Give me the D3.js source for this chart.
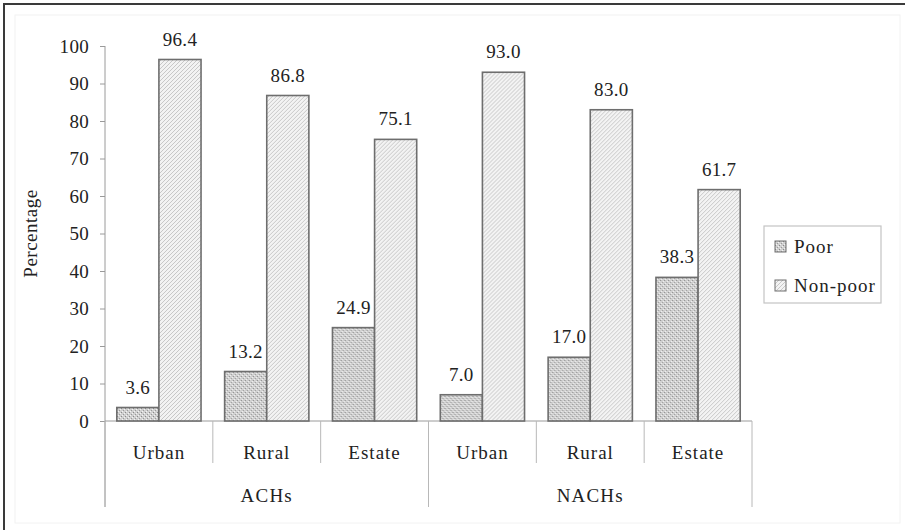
<!DOCTYPE html>
<html>
<head>
<meta charset="utf-8">
<script src="https://cdn.jsdelivr.net/npm/d3@7"></script>
<style>
  html, body { margin: 0; padding: 0; background: #fff; }
</style>
</head>
<body>
<svg id="chart" width="905" height="530"></svg>
<script>
// Share of poor vs non-poor households by sector, ACHs and NACHs
const groups = ["ACHs", "NACHs"];
const sectors = ["Urban", "Rural", "Estate"];
const seriesNames = ["Poor", "Non-poor"];
const poorValues = [3.6, 13.2, 24.9, 7.0, 17.0, 38.3];
const nonPoorValues = [96.4, 86.8, 75.1, 93.0, 83.0, 61.7];
const yTicks = [0, 10, 20, 30, 40, 50, 60, 70, 80, 90, 100];

const SERIF = "Liberation Serif";
const TEXT = "#222";

const rows = [];
groups.forEach((g, gi) => sectors.forEach((s, si) => {
  const i = gi * sectors.length + si;
  rows.push({ key: g + "-" + s, group: g, sector: s, values: [poorValues[i], nonPoorValues[i]] });
}));

const svg = d3.select("#chart");

function label(sel, size, spacing) {
  return sel.style("font-family", SERIF).attr("font-size", size).attr("fill", TEXT)
    .attr("letter-spacing", spacing || 0);
}

// outer frame
svg.append("rect").attr("x", 15).attr("y", 15).attr("width", 885).attr("height", 508)
  .attr("fill", "none").attr("stroke", "#f2f2f2").attr("stroke-width", 1);
svg.append("rect").attr("x", 4).attr("y", 4).attr("width", 1200).attr("height", 1200)
  .attr("fill", "none").attr("stroke", "#3a3a3a").attr("stroke-width", 2);

// fill patterns: stipple for poor, diagonal hatch for non-poor
const defs = svg.append("defs");
const dots = defs.append("pattern").attr("id", "pat-poor").attr("patternUnits", "userSpaceOnUse")
  .attr("width", 4).attr("height", 4);
dots.append("rect").attr("width", 4).attr("height", 4).attr("fill", "#d0d0d0");
dots.append("rect").attr("x", 0).attr("y", 0).attr("width", 1).attr("height", 1).attr("fill", "#8a8a8a");
dots.append("rect").attr("x", 2).attr("y", 2).attr("width", 1).attr("height", 1).attr("fill", "#9a9a9a");
dots.append("rect").attr("x", 3).attr("y", 1).attr("width", 1).attr("height", 1).attr("fill", "#f4f4f4");
dots.append("rect").attr("x", 1).attr("y", 3).attr("width", 1).attr("height", 1).attr("fill", "#f4f4f4");

const hatch = defs.append("pattern").attr("id", "pat-nonpoor").attr("patternUnits", "userSpaceOnUse")
  .attr("width", 4).attr("height", 4);
hatch.append("rect").attr("width", 4).attr("height", 4).attr("fill", "#f3f3f3");
hatch.append("path").attr("d", "M-1,5 L5,-1 M-1,1 L1,-1 M3,5 L5,3")
  .attr("stroke", "#bcbcbc").attr("stroke-width", 0.8);

const fills = ["url(#pat-poor)", "url(#pat-nonpoor)"];

const plot = { left: 105, right: 752, top: 46, bottom: 421 };

const y = d3.scaleLinear().domain([0, 100]).range([plot.bottom, plot.top]);
const x0 = d3.scaleBand().domain(rows.map(d => d.key)).range([plot.left, plot.right]);
const x1 = d3.scaleBand().domain(seriesNames)
  .range([0, x0.bandwidth()]).paddingOuter(0.28).paddingInner(0);

// y axis
const yAxis = svg.append("g").attr("transform", `translate(${plot.left},0)`)
  .call(d3.axisLeft(y).tickValues(yTicks).tickSize(5).tickPadding(11).tickFormat(d3.format("d")));
yAxis.attr("font-family", SERIF).attr("font-size", 19);
yAxis.select(".domain").remove();
yAxis.selectAll(".tick line").attr("stroke", "#9a9a9a");
label(yAxis.selectAll(".tick text"), 19, 0.3);
svg.append("line").attr("x1", plot.left).attr("x2", plot.left)
  .attr("y1", plot.top).attr("y2", 507).attr("stroke", "#9a9a9a");

label(svg.append("text"), 19, 0.5)
  .attr("transform", `translate(33,${(plot.top + plot.bottom) / 2}) rotate(-90)`)
  .attr("text-anchor", "middle").attr("dominant-baseline", "middle")
  .text("Percentage");

// x axis baseline and category separators
svg.append("line").attr("x1", plot.left).attr("x2", plot.right)
  .attr("y1", plot.bottom).attr("y2", plot.bottom).attr("stroke", "#9a9a9a");
const edges = rows.map(d => x0(d.key)).concat([plot.right]);
edges.forEach((ex, i) => {
  const isGroupEdge = i % sectors.length === 0;
  svg.append("line").attr("x1", ex).attr("x2", ex)
    .attr("y1", plot.bottom).attr("y2", isGroupEdge ? 507 : 463)
    .attr("stroke", "#b8b8b8");
});

// bars
const cat = svg.append("g").selectAll("g").data(rows).join("g")
  .attr("transform", d => `translate(${x0(d.key)},0)`);
cat.selectAll("rect").data(d => d.values.map((v, i) => ({ v, i })))
  .join("rect")
  .attr("x", d => x1(seriesNames[d.i]))
  .attr("width", x1.bandwidth())
  .attr("y", d => y(d.v))
  .attr("height", d => y(0) - y(d.v))
  .attr("fill", d => fills[d.i])
  .attr("stroke", "#6e6e6e").attr("stroke-width", 1.6);

// value labels
label(cat.selectAll("text.val").data(d => d.values.map((v, i) => ({ v, i })))
  .join("text").attr("class", "val"), 19, 0.3)
  .attr("x", d => x1(seriesNames[d.i]) + x1.bandwidth() / 2)
  .attr("y", d => y(d.v) - 14)
  .attr("text-anchor", "middle")
  .text(d => d3.format(".1f")(d.v));

// sector labels
label(cat.append("text"), 19, 1).attr("x", x0.bandwidth() / 2).attr("y", 459)
  .attr("text-anchor", "middle").text(d => d.sector);

// group labels
groups.forEach(g => {
  const first = x0(g + "-" + sectors[0]);
  const last = x0(g + "-" + sectors[sectors.length - 1]) + x0.bandwidth();
  label(svg.append("text"), 19, 1.2).attr("x", (first + last) / 2).attr("y", 502)
    .attr("text-anchor", "middle").text(g);
});

// legend
const lg = svg.append("g").attr("transform", "translate(764,226)");
lg.append("rect").attr("width", 117).attr("height", 77)
  .attr("fill", "#fff").attr("stroke", "#c4c4c4").attr("stroke-width", 1.2);
seriesNames.forEach((name, i) => {
  const row = lg.append("g").attr("transform", `translate(11,${27 + i * 39})`);
  row.append("rect").attr("x", 0).attr("y", -12).attr("width", 11).attr("height", 11)
    .attr("fill", fills[i]).attr("stroke", "#6e6e6e").attr("stroke-width", 1);
  label(row.append("text"), 19, 1).attr("x", 19).attr("y", 0).text(name);
});
</script>
</body>
</html>
